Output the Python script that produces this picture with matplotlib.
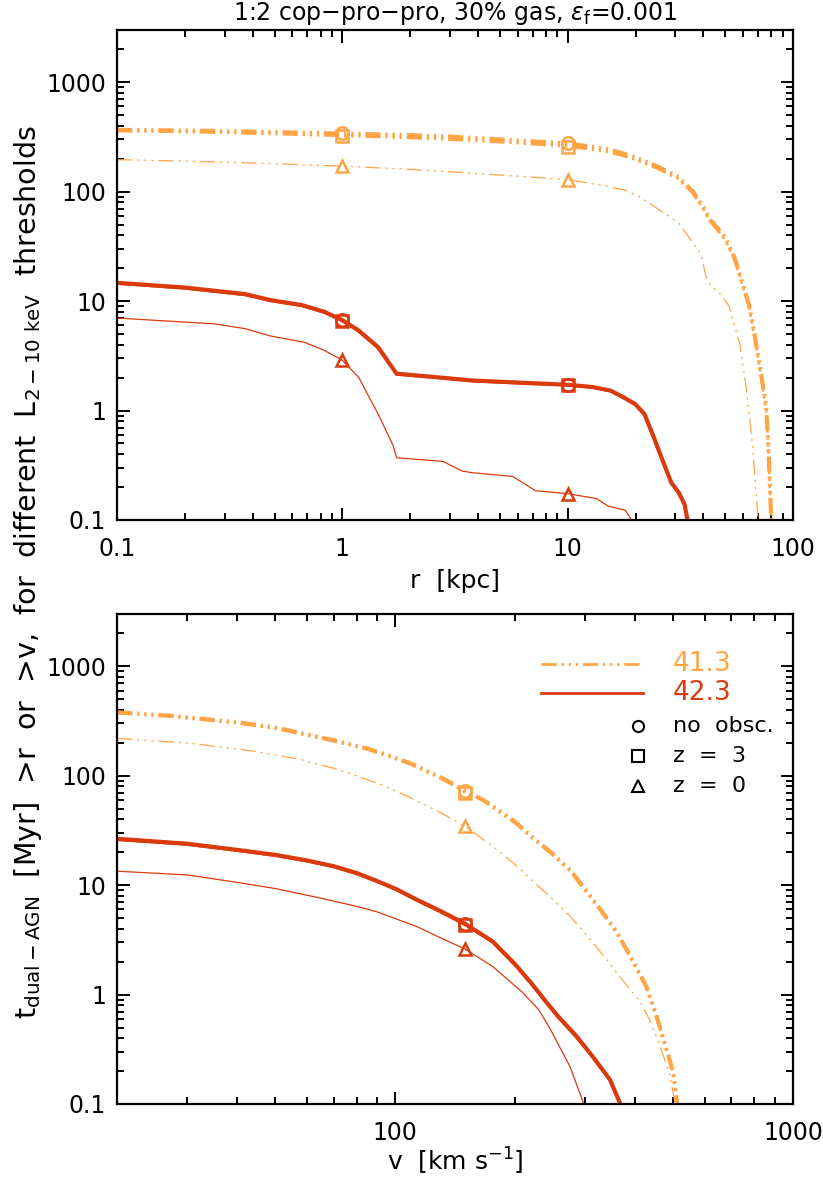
import numpy as np
import matplotlib
matplotlib.use("Agg")
import matplotlib.pyplot as plt
from matplotlib.ticker import FixedLocator, LogLocator, FuncFormatter, NullFormatter

plt.rcParams['font.family'] = ['DejaVu Sans']
plt.rcParams['mathtext.fontset'] = 'dejavusans'
plt.rcParams['lines.scale_dashes'] = False

orange = '#FFA545'
red = '#DA3A0C'

# ---- top panel: t_dual-AGN above r ----
r_41 = [0.1, 0.2, 0.3, 0.5, 1, 2, 3, 5, 10, 15, 19, 25, 31, 36, 40, 43, 46, 50, 55, 60, 64, 68, 72, 76, 78, 80]
t_r_41_noobs = [367, 362, 357, 350, 340, 328, 318, 300, 276, 245, 214, 170, 136, 100, 72, 55, 47, 38, 25, 14, 9, 4.5, 2.2, 1.1, 0.4, 0.1]
t_r_41_z3 = [358, 352, 346, 337, 324, 310, 300, 284, 260, 232, 204, 163, 131, 96, 69, 53, 45, 36, 24, 13.5, 8.6, 4.3, 2.1, 1.0, 0.38, 0.1]

r_41_z0 = [0.1, 0.2, 0.3, 0.5, 1, 2, 3, 5, 10, 15, 18, 21, 27, 31, 36, 39, 41, 43, 47, 52, 58, 62, 66, 70]
t_r_41_z0 = [196, 190, 186, 180, 171, 160, 152, 142, 129, 112, 103, 89, 63, 52, 34, 27, 17, 14, 12, 9, 4.1, 1.6, 0.5, 0.1]

r_42 = [0.1, 0.2, 0.37, 0.48, 0.66, 0.83, 1, 1.18, 1.44, 1.74, 2.6, 3.8, 6.9, 10, 12.9, 15.5, 17.7, 19.9, 21.9, 24.1, 26.1, 28.8, 31.1, 33, 34]
t_r_42_noobs = [14.7, 13.3, 11.6, 10.2, 9.2, 8.0, 6.7, 5.4, 3.8, 2.17, 2.02, 1.88, 1.78, 1.72, 1.64, 1.52, 1.32, 1.15, 0.93, 0.57, 0.37, 0.22, 0.178, 0.139, 0.1]
t_r_42_z3 = [14.5, 13.1, 11.4, 10.1, 9.1, 7.9, 6.6, 5.3, 3.75, 2.15, 2.0, 1.86, 1.76, 1.71, 1.63, 1.51, 1.31, 1.14, 0.92, 0.56, 0.37, 0.22, 0.177, 0.138, 0.1]

r_42_z0 = [0.1, 0.27, 0.37, 0.48, 0.68, 0.83, 1, 1.18, 1.44, 1.68, 1.74, 2.8, 3.4, 3.8, 5.7, 7.2, 10, 13.4, 15.1, 18, 19.2]
t_r_42_z0 = [7.0, 6.2, 5.6, 4.8, 4.2, 3.55, 2.88, 2.02, 0.93, 0.48, 0.37, 0.343, 0.28, 0.27, 0.25, 0.185, 0.174, 0.157, 0.134, 0.123, 0.1]

r_marks = [1, 10]
mark_r_41 = {'o': [340, 278], 's': [322, 258], '^': [171, 129]}
mark_r_42 = {'o': [6.7, 1.72], 's': [6.6, 1.72], '^': [2.88, 0.174]}

# ---- bottom panel: t_dual-AGN above v ----
v_41 = [20, 27, 40, 50, 58, 72, 85, 95, 110, 126, 140, 150, 165, 176, 200, 220, 250, 275, 310, 358, 400, 428, 450, 468, 490, 500, 512]
t_v_41_noobs = [379, 354, 308, 275, 245, 206, 177, 156, 128, 102, 84, 72, 61, 52.5, 38, 27.9, 19, 13.8, 7.9, 3.9, 1.9, 1.18, 0.7, 0.44, 0.25, 0.19, 0.1]
t_v_41_z3 = [372, 348, 302, 270, 240, 202, 174, 153, 126, 100, 82, 70, 60, 51.5, 37, 27.3, 18.6, 13.5, 7.7, 3.8, 1.85, 1.15, 0.68, 0.43, 0.25, 0.19, 0.1]

v_41_z0 = [20, 30, 44.5, 58, 72.5, 85, 94.6, 110, 126, 150, 176, 200, 220, 250, 275, 305, 336, 370, 410, 435, 458, 489, 506]
t_v_41_z0 = [219, 199, 167, 140, 113, 92, 80, 62, 48.9, 34.4, 22.6, 15.5, 11.2, 7.3, 5.2, 3.4, 2.2, 1.4, 0.89, 0.6, 0.38, 0.19, 0.1]

v_42 = [20, 30, 40, 50, 60, 70, 80, 90, 100, 113, 130, 150, 176, 200, 220, 240, 257, 285, 314, 347, 368]
t_v_42_noobs = [26.5, 23.9, 21.0, 18.9, 16.8, 14.9, 12.9, 10.9, 9.3, 7.4, 5.8, 4.43, 3.05, 1.9, 1.27, 0.85, 0.63, 0.42, 0.27, 0.166, 0.1]
t_v_42_z3 = [26.0, 23.5, 20.7, 18.6, 16.6, 14.7, 12.7, 10.8, 9.2, 7.3, 5.7, 4.35, 3.0, 1.87, 1.25, 0.84, 0.62, 0.41, 0.27, 0.165, 0.1]

v_42_z0 = [20, 30, 40, 50, 65, 80, 90, 113, 130, 150, 176, 210, 230, 246, 275, 298]
t_v_42_z0 = [13.4, 12.4, 10.6, 9.3, 7.6, 6.4, 5.7, 4.2, 3.3, 2.6, 1.8, 1.03, 0.72, 0.475, 0.22, 0.1]

v_marks = [150]
mark_v_41 = {'o': [72], 's': [70], '^': [34.4]}
mark_v_42 = {'o': [4.43], 's': [4.35], '^': [2.6]}

dddash = (0, (11, 3.5, 1.6, 3.5, 1.6, 3.5, 1.6, 3.5))
lw_noobs, lw_z3, lw_z0 = 3.0, 2.0, 0.9


def style_axis(ax, xticks, xlim):
    ax.set_xscale('log')
    ax.set_yscale('log')
    ax.set_xlim(*xlim)
    ax.set_ylim(0.1, 3000)
    ax.xaxis.set_major_locator(FixedLocator(xticks))
    ax.xaxis.set_minor_locator(LogLocator(base=10, subs=np.arange(2, 10)))
    ax.yaxis.set_major_locator(FixedLocator([0.1, 1, 10, 100, 1000]))
    ax.yaxis.set_minor_locator(LogLocator(base=10, subs=np.arange(2, 10)))
    fmt = FuncFormatter(lambda x, p: '%g' % x)
    ax.xaxis.set_major_formatter(fmt)
    ax.yaxis.set_major_formatter(fmt)
    ax.xaxis.set_minor_formatter(NullFormatter())
    ax.yaxis.set_minor_formatter(NullFormatter())
    ax.tick_params(which='both', direction='in', top=True, right=True, width=1.4)
    ax.tick_params(which='major', length=9, labelsize=17)
    ax.tick_params(which='minor', length=5)
    ax.tick_params(axis='x', pad=12)
    ax.tick_params(axis='y', pad=8)
    for s in ax.spines.values():
        s.set_linewidth(1.6)


def draw_set(ax, x, noobs, z3, xz0, z0, color, ls):
    ax.plot(x, noobs, color=color, lw=lw_noobs, ls=ls, dash_capstyle='butt')
    ax.plot(x, z3, color=color, lw=lw_z3, ls=ls, dash_capstyle='butt')
    ax.plot(xz0, z0, color=color, lw=lw_z0, ls=ls, dash_capstyle='butt')


def draw_marks(ax, xm, marks, color):
    for m, vals in marks.items():
        ax.plot(xm, vals, ls='none', marker=m, ms=9 if m != 's' else 8.5,
                mfc='none', mec=color, mew=1.8)


fig = plt.figure(figsize=(8.23, 11.81), dpi=100)

ax1 = fig.add_axes([0.1422, 0.5597, 0.8214, 0.4149])
draw_set(ax1, r_41, t_r_41_noobs, t_r_41_z3, r_41_z0, t_r_41_z0, orange, dddash)
draw_set(ax1, r_42, t_r_42_noobs, t_r_42_z3, r_42_z0, t_r_42_z0, red, '-')
draw_marks(ax1, r_marks, mark_r_41, orange)
draw_marks(ax1, r_marks, mark_r_42, red)
style_axis(ax1, [0.1, 1, 10, 100], (0.1, 100))
ax1.set_xlabel('r  [kpc]', fontsize=18, labelpad=6)

ax2 = fig.add_axes([0.1422, 0.0652, 0.8214, 0.4149])
draw_set(ax2, v_41, t_v_41_noobs, t_v_41_z3, v_41_z0, t_v_41_z0, orange, dddash)
draw_set(ax2, v_42, t_v_42_noobs, t_v_42_z3, v_42_z0, t_v_42_z0, red, '-')
draw_marks(ax2, v_marks, mark_v_41, orange)
draw_marks(ax2, v_marks, mark_v_42, red)
style_axis(ax2, [100, 1000], (20, 1000))
ax2.set_xlabel(r'v  [km s$^{\mathregular{-1}}$]', fontsize=18, labelpad=1)

# legend drawn by hand in the lower panel
leg_lines = [('41.3', orange, dddash), ('42.3', red, '-')]
leg_marks = [('o', 'no  obsc.'), ('s', 'z  =  3'), ('^', 'z  =  0')]
ly = [0.898, 0.839]
for (lab, c, ls), yy in zip(leg_lines, ly):
    ax2.plot([0.627, 0.778], [yy, yy], transform=ax2.transAxes, color=c, lw=2.0,
             ls=ls, dash_capstyle='butt')
    ax2.text(0.822, yy, lab, transform=ax2.transAxes, color=c, fontsize=19, va='center')
my = [0.771, 0.710, 0.649]
for (m, lab), yy in zip(leg_marks, my):
    ax2.plot([0.771], [yy], transform=ax2.transAxes, ls='none', marker=m, ms=8,
             mfc='none', mec='black', mew=1.5)
    ax2.text(0.822, yy, lab, transform=ax2.transAxes, color='black', fontsize=16, va='center')

fig.text(0.553, 0.9885, '1:2 cop\u2212pro\u2212pro, 30% gas, $\\epsilon_{\\mathregular{f}}$=0.001',
         ha='center', va='center', fontsize=17)
fig.text(0.034, 0.516,
         r'$\mathregular{t_{dual-AGN}}$  [Myr]  >r  or  >v,  for  different  $\mathregular{L_{2-10\ keV}}$  thresholds',
         rotation=90, ha='center', va='center', fontsize=20.5)

fig.savefig('out.png', dpi=100)
